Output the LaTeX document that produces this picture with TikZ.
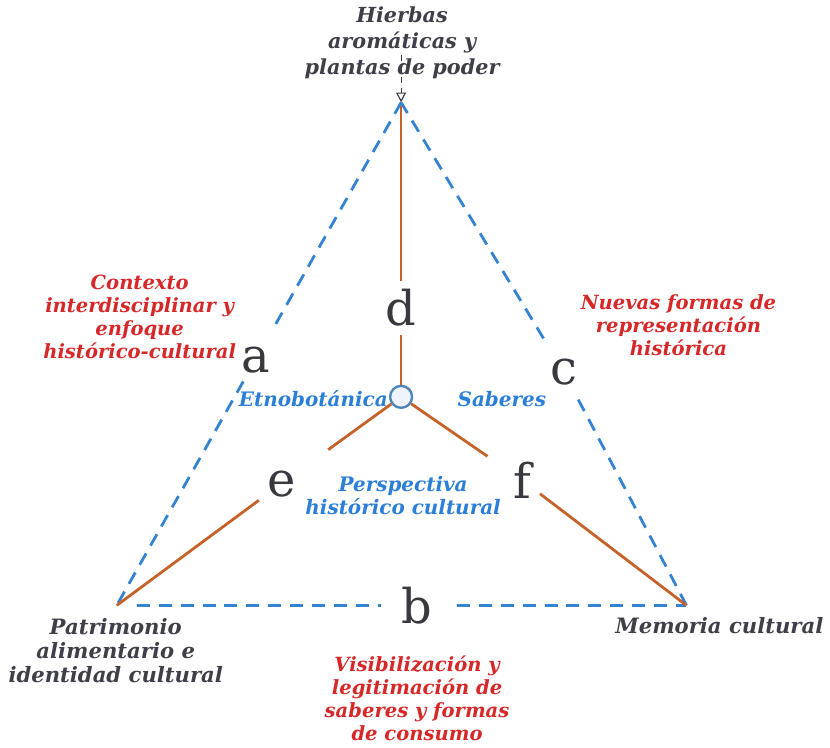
\documentclass[tikz,border=0pt]{standalone}
\usepackage{fontspec}
\setmainfont{DejaVu Serif}
\usetikzlibrary{positioning}
\usetikzlibrary{arrows.meta}
\definecolor{txtgray}{HTML}{3E3F48}
\definecolor{txtred}{HTML}{D62828}
\definecolor{txtblue}{HTML}{2C7FD6}
\definecolor{lettgray}{HTML}{38393F}
\definecolor{edgeorange}{HTML}{C4622A}
\definecolor{edgeblue}{HTML}{3483D0}
\definecolor{hubblue}{HTML}{4F87B8}
\definecolor{hubfill}{HTML}{EEF4FA}
\tikzset{
    mytext/.style = {align=center, font=\bfseries\itshape\fontsize{10.6}{12}\selectfont, text=txtgray},
    mytextt/.style = {mytext, font=\bfseries\itshape\fontsize{10.4}{13}\selectfont},
    mytextr/.style = {mytext, font=\bfseries\itshape\fontsize{9.8}{11.6}\selectfont, text=txtred},
    mytextb/.style = {mytext, font=\bfseries\itshape\fontsize{10}{11.6}\selectfont, text=txtblue},
    myletter/.style = {font=\fontsize{24}{24}\selectfont, text=lettgray, inner sep=4pt},
    myhub/.style = {circle, line width=1.2pt, draw=hubblue, fill=hubfill, minimum size=11pt, inner sep=0pt},
    edgeo/.style = {-, line width=1.4pt, edgeorange},
    edgebd/.style = {-, line width=1.4pt, edgeblue, dash pattern=on 6.5pt off 4.5pt}, % sides
    edgegd/.style = {-{Triangle[open, length=5pt, width=5pt]}, line width=0.6pt, txtgray, dash pattern=on 3pt off 2.5pt}, % title
}

\begin{document}
\begin{tikzpicture}[x=0.5pt, y=-0.5pt]
\coordinate (apex) at (402, 102);
\coordinate (pa) at (117, 606);
\coordinate (me) at (688, 606);
\coordinate (t) at (402, 54);
\node[myhub] at (402, 397) (hub) {};
%
\node[myletter] at (256, 360) (a) {a};
\node[myletter] at (418, 606) (b) {b};
\node[myletter] at (565, 372) (c) {c};
\node[myletter] at (402, 308) (d) {d};
\node[myletter] at (282, 484) (e) {e};
\node[myletter] at (524, 481) (f) {f};
%
\node[mytextt] at (403, 42) (hierbas) {Hierbas\\aromáticas y\\plantas de poder};
\node[mytext] at (116, 651) (patri) {Patrimonio\\alimentario e\\identidad cultural};
\node[mytext] at (721, 626) (memo) {Memoria cultural};
\node[mytextr] at (140, 317) (contexto) {Contexto\\interdisciplinar y\\enfoque\\histórico-cultural};
\node[mytextr] at (680, 325) (nuevas) {Nuevas formas de\\representación\\histórica};
\node[mytextr] at (418, 699) (visib) {Visibilización y\\legitimación de\\saberes y formas\\de consumo};
\node[mytextb] at (314, 399) (etno) {Etnobotánica};
\node[mytextb] at (503, 399) (saberes) {Saberes};
\node[mytextb] at (404, 496) (persp) {Perspectiva\\histórico cultural};
%
\draw[edgegd] (t) -- (apex);
\draw[edgebd, shorten >=6pt] (apex) -- (a);
\draw[edgebd] (a) -- (pa);
\draw[edgebd, shorten <=10pt, shorten >=6pt] (pa) -- (b);
\draw[edgebd, shorten <=8pt] (b) -- (me);
\draw[edgebd] (me) -- (c);
\draw[edgebd, shorten <=7pt] (c) -- (apex);
%
\draw[edgeo, shorten <=2pt] (apex) -- (d);
\draw[edgeo] (d) -- (hub);
\draw[edgeo, shorten >=15pt] (hub) -- (e);
\draw[edgeo] (e) -- (pa);
\draw[edgeo, shorten >=11pt] (hub) -- (f);
\draw[edgeo] (f) -- (me);

\path[use as bounding box] (0,0) rectangle (830,748);
\end{tikzpicture}
\end{document}
